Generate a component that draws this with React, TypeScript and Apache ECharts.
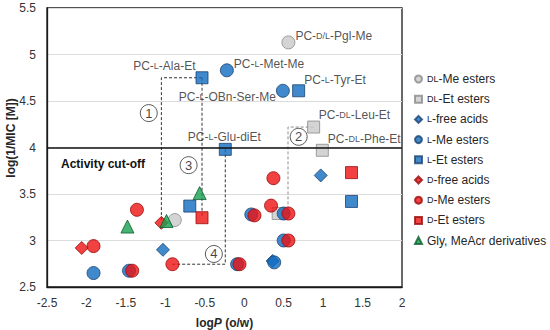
import React, { useEffect, useRef } from "react";
import * as echarts from "echarts";

// ---- data ----
const legendNames = [
  "DL-Me esters",
  "DL-Et esters",
  "L-free acids",
  "L-Me esters",
  "L-Et esters",
  "D-free acids",
  "D-Me esters",
  "D-Et esters",
  "Gly, MeAcr derivatives",
];
const legendRich = [
  "{s|DL}-Me esters",
  "{s|DL}-Et esters",
  "{s|L}-free acids",
  "{s|L}-Me esters",
  "{s|L}-Et esters",
  "{s|D}-free acids",
  "{s|D}-Me esters",
  "{s|D}-Et esters",
  "Gly, MeAcr derivatives",
];

const dlMe = [[0.56, 5.13], [-0.88, 3.22]];
const dlEt = [[0.88, 4.22], [0.99, 3.97], [0.43, 3.29]];
const lFree = [[0.97, 3.7], [-1.03, 2.9], [0.36, 2.78]];
const lMe = [
  [-0.22, 4.83], [0.49, 4.61], [-1.91, 2.65], [-1.46, 2.675], [0.09, 3.28],
  [-0.09, 2.745], [0.5, 3.29], [0.5, 3.0], [0.38, 2.765],
];
const lEt = [[-0.535, 4.75], [0.69, 4.61], [-0.24, 3.98], [-0.69, 3.37], [1.36, 3.42]];
const dFree = [[-2.06, 2.92], [-1.05, 3.19]];
const dMe = [
  [-1.91, 2.94], [-1.36, 3.33], [-1.42, 2.675], [-0.91, 2.745], [-0.06, 2.745],
  [0.13, 3.27], [0.37, 3.67], [0.34, 3.375], [0.56, 3.29], [0.56, 3.0],
];
const dEt = [[1.36, 3.73], [-0.535, 3.245]];
const gly = [[-0.565, 3.51], [-1.48, 3.15], [-0.985, 3.21]];

// labelled compounds: [seriesIndex, pointIndex, text]
const compoundLabels: [number, number, string][] = [
  [0, 0, "PC-{s|D/L}-Pgl-Me"],
  [3, 0, "PC-{s|L}-Met-Me"],
  [4, 0, "PC-{s|L}-Ala-Et"],
  [4, 1, "PC-{s|L}-Tyr-Et"],
  [3, 1, "PC-{s|L}-OBn-Ser-Me"],
  [1, 0, "PC-{s|DL}-Leu-Et"],
  [4, 2, "PC-{s|L}-Glu-diEt"],
  [1, 1, "PC-{s|DL}-Phe-Et"],
];

// dashed connector paths
const path1 = [[-0.535, 4.75], [-1.05, 4.75], [-1.05, 3.21]];
const path2 = [[0.88, 4.22], [0.555, 4.22], [0.555, 3.29]];
const path3 = [[-0.535, 4.75], [-0.535, 3.245]];
const path4 = [[-0.24, 3.98], [-0.24, 2.745], [-0.91, 2.745]];
const circledNumbers = [
  [-1.21, 4.37, "1"],
  [0.69, 4.115, "2"],
  [-0.705, 3.81, "3"],
  [-0.385, 2.855, "4"],
];
const cutoff = 4;

const FONT = "Liberation Sans, Arial, sans-serif";
const TXT = "#262626";

export default function App() {
  const ref = useRef<HTMLDivElement>(null);
  useEffect(() => {
    document.body.style.margin = "0";
    const chart = echarts.init(ref.current!, null, { renderer: "svg" });

    const rich = {
      s: { fontSize: 9, fontFamily: FONT, color: TXT },
    };

    const labelPlacement: Record<string, any> = {
      "0-0": { position: "right", distance: 0, offset: [0, -6] },
      "3-0": { position: "right", distance: 0, offset: [0, -6] },
      "4-0": { position: "left", distance: 0, offset: [0, -11.5] },
      "4-1": { position: "right", distance: 0, offset: [-1, -11] },
      "3-1": { position: "left", distance: 0, offset: [0, 6.7] },
      "1-0": { position: "right", distance: 0, offset: [-1.5, -11.7] },
      "4-2": { position: "top", distance: 0, offset: [-1, 0] },
      "1-1": { position: "right", distance: 0, offset: [-1, -11.7] },
    };

    const styles = [
      { symbol: "circle", size: 13, color: "#c9c9c9", border: "#8a8a8a" },
      { symbol: "rect", size: 12, color: "#c9c9c9", border: "#8a8a8a" },
      { symbol: "diamond", size: 13, color: "#0f6cbf", border: "#1b4470" },
      { symbol: "circle", size: 13, color: "#0f6cbf", border: "#1b4470" },
      { symbol: "rect", size: 12, color: "#0f6cbf", border: "#1b4470" },
      { symbol: "diamond", size: 13, color: "#ee1111", border: "#9a0c0c" },
      { symbol: "circle", size: 13, color: "#ee1111", border: "#9a0c0c" },
      { symbol: "rect", size: 12, color: "#ee1111", border: "#9a0c0c" },
      { symbol: "triangle", size: 13, color: "#16a050", border: "#0b5e2e" },
    ];
    const datasets = [dlMe, dlEt, lFree, lMe, lEt, dFree, dMe, dEt, gly];

    const scatterSeries = datasets.map((d, si) => ({
      type: "scatter",
      name: legendNames[si],
      symbol: styles[si].symbol,
      symbolSize: styles[si].size,
      z: 3,
      itemStyle: { color: styles[si].color, borderColor: styles[si].border, borderWidth: 1 },
      data: d.map((p, pi) => {
        const lab = compoundLabels.find((l) => l[0] === si && l[1] === pi);
        if (!lab) return { value: p };
        return {
          value: p,
          label: {
            show: true,
            formatter: lab[2],
            fontSize: 12,
            fontFamily: FONT,
            color: TXT,
            rich,
            ...labelPlacement[`${si}-${pi}`],
          },
        };
      }),
      ...(si === 0
        ? {
            markLine: {
              silent: true,
              symbol: "none",
              animation: false,
              label: { show: false },
              lineStyle: { color: "#111", width: 1.5, type: "solid" },
              data: [{ yAxis: cutoff }],
            },
          }
        : {}),
    }));

    const dashSeries = [path1, path2, path3, path4].map((p, i) => ({
      type: "line",
      data: p,
      showSymbol: false,
      symbol: "none",
      silent: true,
      z: 1,
      lineStyle: { color: i === 1 ? "#8c8c8c" : "#333", width: 1, type: [3, 2] },
    }));

    const numberSeries = {
      type: "scatter",
      name: "numbers",
      symbol: "circle",
      symbolSize: 17,
      z: 2,
      silent: true,
      itemStyle: { color: "#fff", borderColor: "#333", borderWidth: 1 },
      label: {
        show: true,
        position: "inside",
        formatter: (p: any) => p.value[2],
        fontSize: 13,
        fontFamily: FONT,
        color: "#111",
      },
      data: circledNumbers,
    };

    chart.setOption({
      animation: false,
      textStyle: { fontFamily: FONT },
      grid: {
        left: 47,
        right: 148,
        top: 8,
        bottom: 43,
        outerBoundsMode: "none",
        containLabel: false,
        show: true,
        borderColor: "#1a1a1a",
        borderWidth: 1.3,
        backgroundColor: "#fff",
      },
      legend: {
        orient: "vertical",
        left: 409,
        top: 67,
        itemWidth: 7,
        itemHeight: 7,
        itemGap: 6.2,
        data: legendNames.map((n, i) => ({ name: n, icon: styles[i].symbol })),
        selectedMode: false,
        formatter: (name: string) => legendRich[legendNames.indexOf(name)],
        textStyle: {
          fontSize: 12,
          fontFamily: FONT,
          color: TXT,
          lineHeight: 14,
          rich: { s: { fontSize: 9, fontFamily: FONT, color: TXT, lineHeight: 14 } },
        },
      },
      xAxis: {
        type: "value",
        min: -2.5,
        max: 2,
        interval: 0.5,
        name: "{b|log}{i|P}{b| (o/w)}",
        nameLocation: "middle",
        nameGap: 30,
        nameTextStyle: {
          rich: {
            b: { fontSize: 12, fontWeight: "bold", fontFamily: FONT, color: TXT },
            i: { fontSize: 12, fontWeight: "bold", fontStyle: "italic", fontFamily: FONT, color: TXT },
          },
        },
        axisLine: { show: true, onZero: false, lineStyle: { color: "#1a1a1a", width: 1.3 } },
        axisTick: { show: false },
        splitLine: { show: false },
        axisLabel: { fontSize: 12, color: "#333", margin: 10, fontFamily: FONT },
      },
      yAxis: {
        type: "value",
        min: 2.5,
        max: 5.5,
        interval: 0.5,
        axisLine: { show: true, onZero: false, lineStyle: { color: "#1a1a1a", width: 1.3 } },
        axisTick: { show: false },
        splitLine: { show: true, lineStyle: { color: "#dcdcdc", width: 1 } },
        axisLabel: { fontSize: 12, color: "#333", margin: 11, fontFamily: FONT },
      },
      graphic: [
        {
          type: "text",
          left: 61,
          top: 158,
          z: 10,
          style: {
            text: "Activity cut-off",
            font: `bold 12px ${FONT}`,
            fill: "#111",
          },
        },
        {
          type: "text",
          x: 11,
          y: 138,
          rotation: Math.PI / 2,
          z: 10,
          style: {
            text: "log(1/MIC [M])",
            font: `bold 12px ${FONT}`,
            fill: TXT,
            align: "center",
            verticalAlign: "middle",
          },
        },
      ],
      series: [...dashSeries, numberSeries, ...scatterSeries],
    });

    return () => chart.dispose();
  }, []);

  return <div ref={ref} style={{ width: 550, height: 330 }} />;
}
